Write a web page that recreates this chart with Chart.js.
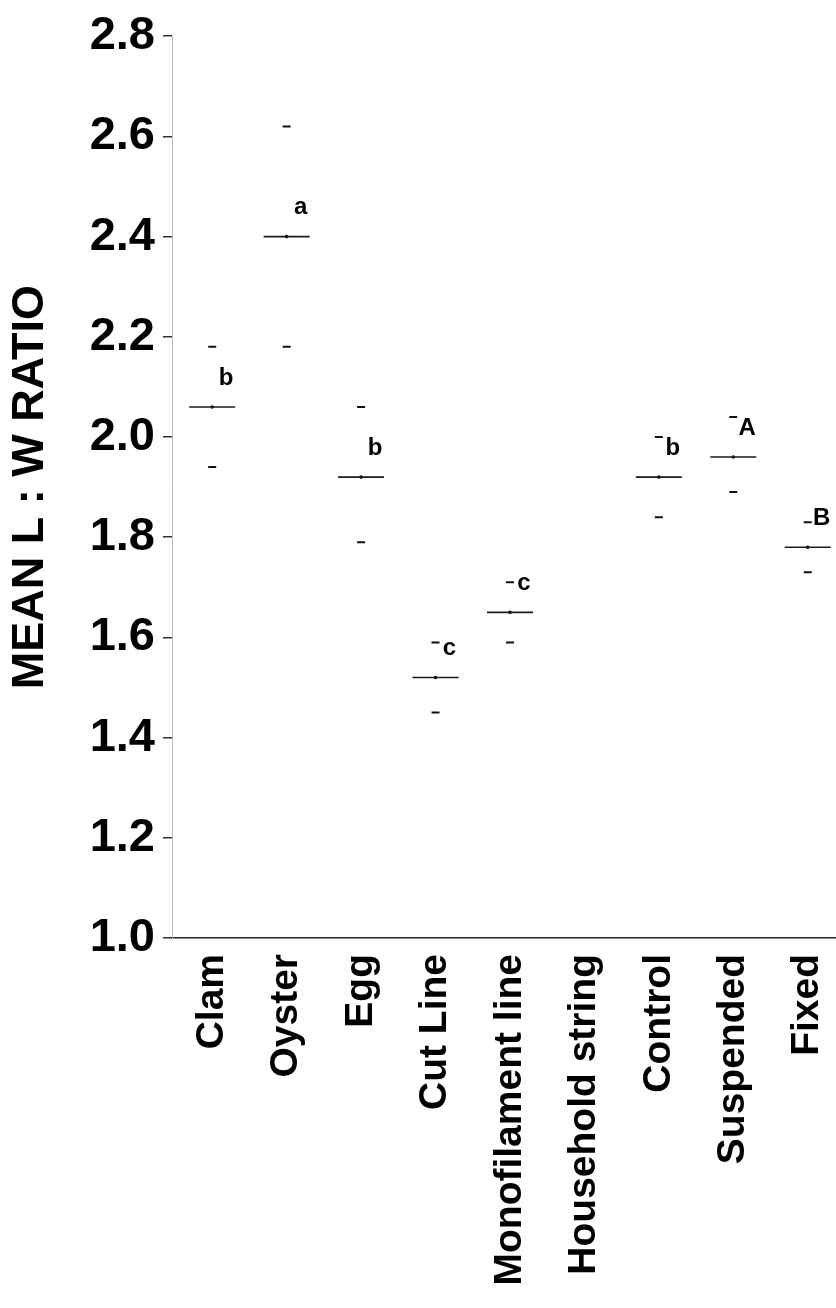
<!DOCTYPE html>
<html>
<head>
<meta charset="utf-8">
<title>Mean L:W ratio</title>
<script src="https://cdn.jsdelivr.net/npm/chart.js@4/dist/chart.umd.min.js"></script>
<style>
    html, body { margin: 0; padding: 0; background: #fff; overflow: hidden; }
    #ratioChart { display: block; }
</style>
</head>
<body>
<canvas id="ratioChart" width="836" height="1308"></canvas>
<script>
// Treatment categories along the x axis
const categories = ['Clam', 'Oyster', 'Egg', 'Cut Line', 'Monofilament line',
    'Household string', 'Control', 'Suspended', 'Fixed'];

// Mean L:W ratio and the error bar ends (Household string has no data)
const means = [2.06, 2.40, 1.92, 1.52, 1.65, null, 1.92, 1.96, 1.78];
const upper = [2.18, 2.62, 2.06, 1.59, 1.71, null, 2.00, 2.04, 1.83];
const lower = [1.94, 2.18, 1.79, 1.45, 1.59, null, 1.84, 1.89, 1.73];

// Significance letters
const letters = ['b', 'a', 'b', 'c', 'c', '', 'b', 'A', 'B'];

// Y axis ticks
const yTicks = [1.0, 1.2, 1.4, 1.6, 1.8, 2.0, 2.2, 2.4, 2.6, 2.8];

function toPoints(values) {
    return values
        .map((v, i) => (v === null ? null : { x: i, y: v }))
        .filter(p => p !== null);
}

// Draws the letters beside each mean
const letterPlugin = {
    id: 'letters',
    afterDatasetsDraw(chart) {
        const ctx = chart.ctx;
        const xs = chart.scales.x;
        const ys = chart.scales.y;
        ctx.save();
        ctx.fillStyle = '#000';
        ctx.font = 'bold 24px "Liberation Sans", Arial, sans-serif';
        ctx.textAlign = 'center';
        ctx.textBaseline = 'middle';
        letters.forEach((letter, i) => {
            if (!letter || means[i] === null) return;
            const px = xs.getPixelForValue(i) + 14;
            const py = ys.getPixelForValue(means[i]) - 29;
            ctx.fillText(letter, px, py);
        });
        ctx.restore();
    }
};

document.addEventListener('DOMContentLoaded', function() {
    const canvas = document.getElementById('ratioChart');
    const font = '"Liberation Sans", Arial, Helvetica, sans-serif';

    new Chart(canvas, {
        type: 'scatter',
        data: {
            datasets: [
                {
                    label: 'Mean',
                    data: toPoints(means),
                    pointStyle: 'line',
                    pointRadius: 23,
                    pointHoverRadius: 23,
                    borderColor: '#1a1a1a',
                    borderWidth: 1.6
                },
                {
                    label: 'Mean dot',
                    data: toPoints(means),
                    pointStyle: 'circle',
                    pointRadius: 1.8,
                    backgroundColor: '#000',
                    borderColor: '#000',
                    borderWidth: 0
                },
                {
                    label: 'Upper',
                    data: toPoints(upper),
                    pointStyle: 'line',
                    pointRadius: 4,
                    borderColor: '#111',
                    borderWidth: 2
                },
                {
                    label: 'Lower',
                    data: toPoints(lower),
                    pointStyle: 'line',
                    pointRadius: 4,
                    borderColor: '#111',
                    borderWidth: 2
                }
            ]
        },
        options: {
            responsive: false,
            animation: false,
            devicePixelRatio: 1,
            layout: { autoPadding: false, padding: { top: 7, right: 0, left: 0, bottom: 0 } },
            plugins: {
                legend: { display: false },
                tooltip: { enabled: false }
            },
            scales: {
                x: {
                    type: 'linear',
                    min: -0.54,
                    max: 8.38,
                    afterBuildTicks: scale => {
                        scale.ticks = categories.map((c, i) => ({ value: i }));
                    },
                    afterFit: scale => {
                        scale.height = 370;
                        scale.paddingLeft = 0;
                        scale.paddingRight = 0;
                    },
                    grid: { display: false, drawTicks: false },
                    border: { display: true, color: '#222', width: 1.5 },
                    ticks: {
                        autoSkip: false,
                        minRotation: 90,
                        maxRotation: 90,
                        padding: 16,
                        color: '#000',
                        font: { family: font, size: 39, weight: 'bold' },
                        callback: value => categories[value] || ''
                    }
                },
                y: {
                    min: 1.0,
                    max: 2.8,
                    afterBuildTicks: scale => {
                        scale.ticks = yTicks.map(v => ({ value: v }));
                    },
                    afterFit: scale => { scale.width = 172; },
                    grid: {
                        drawOnChartArea: false,
                        drawTicks: true,
                        tickLength: 9,
                        color: '#333',
                        lineWidth: 1.5
                    },
                    border: { display: true, color: '#bbb', width: 1, dash: [1, 6] },
                    ticks: {
                        padding: 8,
                        color: '#000',
                        font: { family: font, size: 47, weight: 'bold' },
                        callback: value => value.toFixed(1)
                    },
                    title: {
                        display: true,
                        text: 'MEAN L : W RATIO',
                        color: '#000',
                        padding: { top: 4, bottom: 0 },
                        font: { family: font, size: 45, weight: 'bold' }
                    }
                }
            }
        },
        plugins: [letterPlugin]
    });
});
</script>
</body>
</html>
